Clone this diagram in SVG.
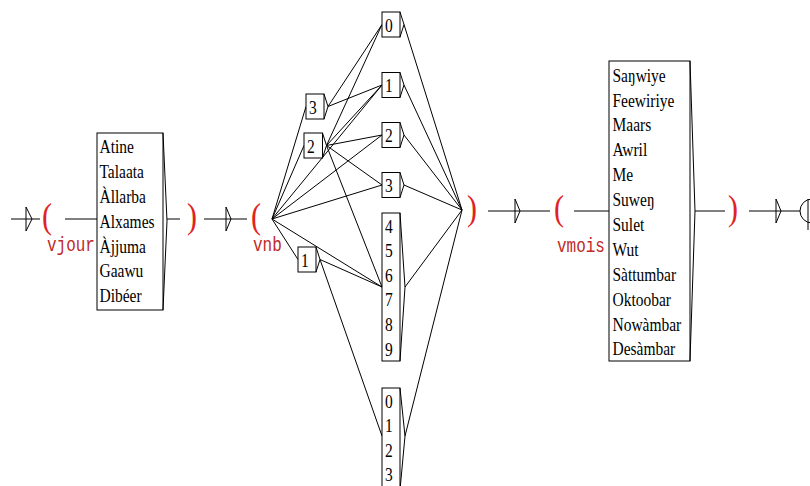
<svg xmlns="http://www.w3.org/2000/svg" width="810" height="486" viewBox="0 0 810 486">
<style>
.ln{stroke:#000;stroke-width:1;fill:none}
.bx{stroke:#000;stroke-width:1;fill:#fff}
.bt{font-family:"Liberation Serif","Times New Roman",serif;font-size:15.5px;fill:#000}
.par{font-family:"Liberation Serif","Times New Roman",serif;font-size:30px;fill:#e02222}
.lab{font-family:"Liberation Mono","Courier New",monospace;font-size:16px;fill:#c02828}
</style>
<rect width="810" height="486" fill="#fff"/>
<g id="connectors" class="ln">
<path d="M11,219H40M65,219H97M167,219H180M204,219H247"/>
<path d="M488,211H550M574,211H609M695,211H725M749,211H800"/>
<path d="M272,219L306,106.5M272,219L304,145.5M272,219L298,259.5M272,219L382,85M272,219L382,135M272,219L382,185M272,219L382,287"/>
<path d="M328,106.5L382,24.5M328,106.5L382,85"/>
<path d="M326.5,145.5L382,24.5M326.5,145.5L382,85M326.5,145.5L382,135M326.5,145.5L382,185M326.5,145.5L382,287"/>
<path d="M320,259.5L382,287M320,259.5L382,436"/>
<path d="M404,24.5L462,210M404,85L462,210M404,135L462,210M404,185L462,210M405,287L462,210M405,436L462,210"/>
</g>
<g id="start"><path class="ln" d="M26,207L32,219L26,231Z"/></g>
<g id="ctx-open-vjour"><text class="par" transform="translate(42,228) scale(1,1.2)">(</text><text class="lab" transform="translate(47,251) scale(1,1.22)">vjour</text></g>
<g id="box-vjour">
<rect class="bx" x="97" y="133" width="66" height="177"/>
<path class="ln" d="M163,133L167,221L163,310"/>
<g transform="translate(99.5,153.3) scale(1,1.22)"><text class="bt"><tspan x="0" y="0">Atine</tspan><tspan x="0" dy="20.33">Talaata</tspan><tspan x="0" dy="20.33">Àllarba</tspan><tspan x="0" dy="20.33">Alxames</tspan><tspan x="0" dy="20.33">Àjjuma</tspan><tspan x="0" dy="20.33">Gaawu</tspan><tspan x="0" dy="20.33">Dibéer</tspan></text></g>
</g>
<g id="ctx-close-vjour"><text class="par" transform="translate(187,228) scale(1,1.2)">)</text></g>
<g id="arrow-1"><path class="ln" d="M226,207L231,219L226,231Z"/></g>
<g id="ctx-open-vnb"><text class="par" transform="translate(251,228) scale(1,1.2)">(</text><text class="lab" transform="translate(253,251) scale(1,1.22)">vnb</text></g>
<g id="box-l3"><rect class="bx" x="306" y="94" width="18" height="25"/><path class="ln" d="M324,94L328,106.5L324,119"/><text class="bt" transform="translate(309,113.5) scale(1,1.22)">3</text></g>
<g id="box-l2"><rect class="bx" x="304" y="133" width="18.5" height="25"/><path class="ln" d="M322.5,133L326.5,145.5L322.5,158"/><text class="bt" transform="translate(307,152.5) scale(1,1.22)">2</text></g>
<g id="box-l1"><rect class="bx" x="298" y="247" width="18" height="25"/><path class="ln" d="M316,247L320,259.5L316,272"/><text class="bt" transform="translate(301,266.5) scale(1,1.22)">1</text></g>
<g id="box-r0"><rect class="bx" x="382" y="12" width="18" height="25"/><path class="ln" d="M400,12L404,24.5L400,37"/><text class="bt" transform="translate(385,31.5) scale(1,1.22)">0</text></g>
<g id="box-r1"><rect class="bx" x="382" y="72.5" width="18" height="25"/><path class="ln" d="M400,72.5L404,85L400,97.5"/><text class="bt" transform="translate(385,92) scale(1,1.22)">1</text></g>
<g id="box-r2"><rect class="bx" x="382" y="122.5" width="18" height="25"/><path class="ln" d="M400,122.5L404,135L400,147.5"/><text class="bt" transform="translate(385,142) scale(1,1.22)">2</text></g>
<g id="box-r3"><rect class="bx" x="382" y="172.5" width="18" height="25"/><path class="ln" d="M400,172.5L404,185L400,197.5"/><text class="bt" transform="translate(385,192) scale(1,1.22)">3</text></g>
<g id="box-r49"><rect class="bx" x="382" y="213" width="18" height="148"/><path class="ln" d="M400,213L405,287L400,361"/>
<g transform="translate(385,232.5) scale(1,1.22)"><text class="bt"><tspan x="0" y="0">4</tspan><tspan x="0" dy="20.2">5</tspan><tspan x="0" dy="20.2">6</tspan><tspan x="0" dy="20.2">7</tspan><tspan x="0" dy="20.2">8</tspan><tspan x="0" dy="20.2">9</tspan></text></g></g>
<g id="box-r03"><rect class="bx" x="382" y="388" width="18" height="102"/><path class="ln" d="M400,388L405,436L400,490"/>
<g transform="translate(385,407.5) scale(1,1.22)"><text class="bt"><tspan x="0" y="0">0</tspan><tspan x="0" dy="20.2">1</tspan><tspan x="0" dy="20.2">2</tspan><tspan x="0" dy="20.2">3</tspan></text></g></g>
<g id="ctx-close-vnb"><text class="par" transform="translate(467,220) scale(1,1.2)">)</text></g>
<g id="arrow-2"><path class="ln" d="M515,199L520,211L515,223Z"/></g>
<g id="ctx-open-vmois"><text class="par" transform="translate(554,220) scale(1,1.2)">(</text><text class="lab" transform="translate(557,252) scale(1,1.22)">vmois</text></g>
<g id="box-vmois">
<rect class="bx" x="609" y="61" width="81" height="300"/>
<path class="ln" d="M690,61L695,211L690,361"/>
<g transform="translate(612.5,81.7) scale(1,1.22)"><text class="bt"><tspan x="0" y="0">Saŋwiye</tspan><tspan x="0" dy="20.4">Feewiriye</tspan><tspan x="0" dy="20.4">Maars</tspan><tspan x="0" dy="20.4">Awril</tspan><tspan x="0" dy="20.4">Me</tspan><tspan x="0" dy="20.4">Suweŋ</tspan><tspan x="0" dy="20.4">Sulet</tspan><tspan x="0" dy="20.4">Wut</tspan><tspan x="0" dy="20.4">Sàttumbar</tspan><tspan x="0" dy="20.4">Oktoobar</tspan><tspan x="0" dy="20.4">Nowàmbar</tspan><tspan x="0" dy="20.4">Desàmbar</tspan></text></g>
</g>
<g id="ctx-close-vmois"><text class="par" transform="translate(728,220) scale(1,1.2)">)</text></g>
<g id="arrow-3"><path class="ln" d="M776,199L781,211L776,223Z"/></g>
<g id="final"><circle class="ln" cx="812" cy="211" r="12"/><path class="ln" d="M808,199V230"/></g>
</svg>
